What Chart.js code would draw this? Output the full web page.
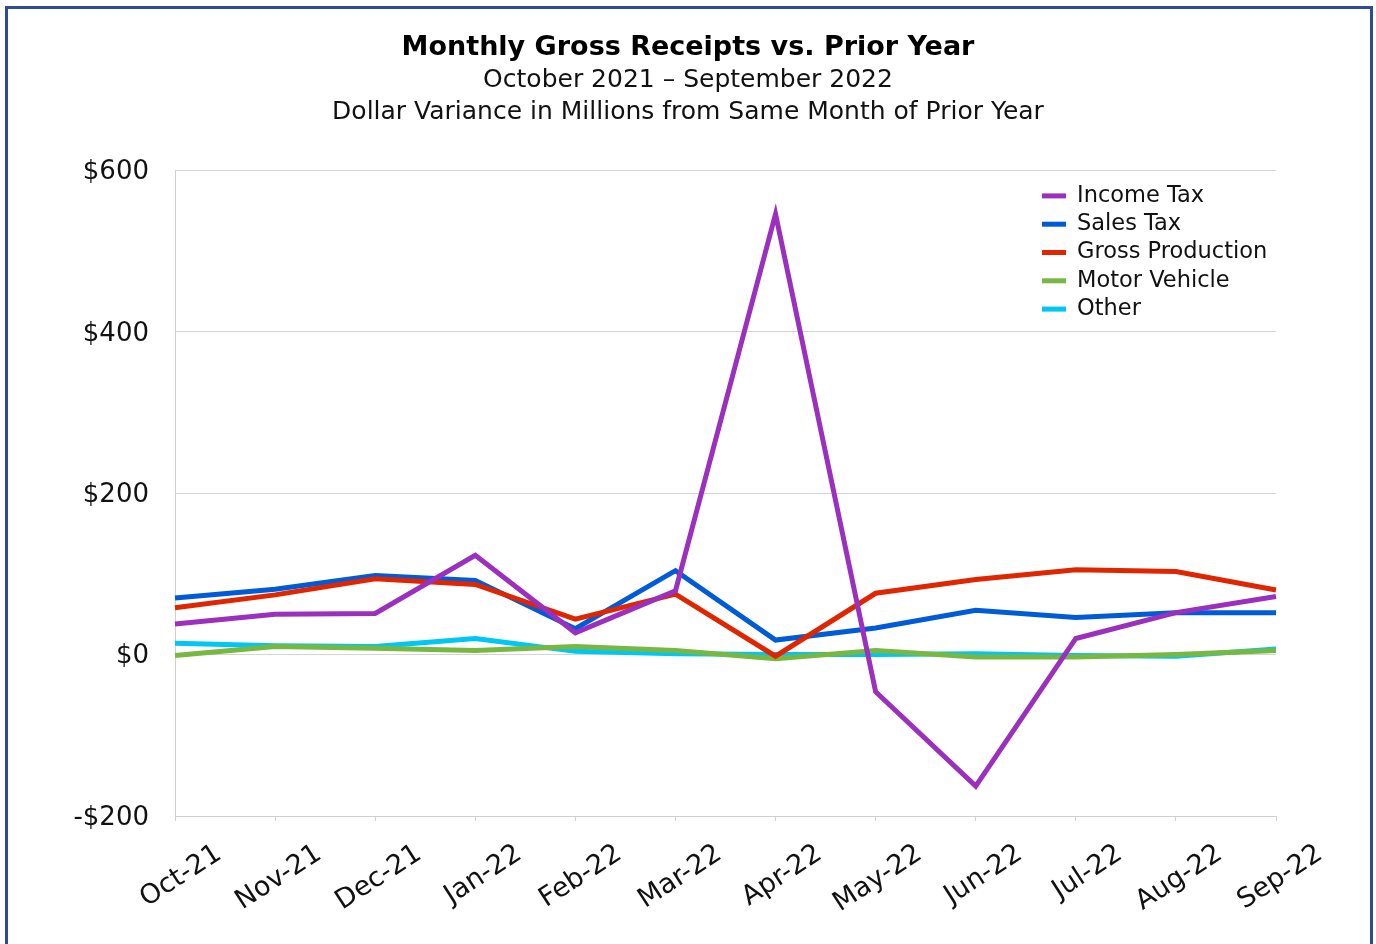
<!DOCTYPE html>
<html lang="en">
<head>
  <meta charset="UTF-8">
  <title>Monthly Gross Receipts vs. Prior Year</title>
  <script src="https://cdn.jsdelivr.net/npm/chart.js"></script>
  <style>
    body {
      margin: 0;
      background: white;
      overflow: hidden;
    }
    .frame {
      position: absolute;
      left: 5px;
      top: 6px;
      width: 1368px;
      height: 1000px;
      box-sizing: border-box;
      border: 3px solid #2e4b9b;
    }
    canvas {
      position: absolute;
      left: 0;
      top: 0;
    }
  </style>
</head>
<body>

<div class="frame"></div>
<canvas id="lineChart" width="1376" height="944"></canvas>

<script>
  const months = ["Oct-21", "Nov-21", "Dec-21", "Jan-22", "Feb-22", "Mar-22",
                  "Apr-22", "May-22", "Jun-22", "Jul-22", "Aug-22", "Sep-22"];

  // dollar variance in millions, same month of prior year
  const incomeTax       = [38, 50, 51, 123, 27, 79, 546, -46, -163, 20, 52, 72];
  const salesTax        = [70, 81, 98, 92, 32, 104, 18, 33, 55, 46, 52, 52];
  const grossProduction = [58, 74, 94, 87, 44, 75, -2, 76, 93, 105, 103, 80];
  const motorVehicle    = [-1, 10, 8, 5, 10, 5, -5, 5, -3, -3, 0, 5];
  const other           = [14, 11, 10, 20, 4, 1, 0, 0, 1, -1, -2, 7];

  const yTicks = [-200, 0, 200, 400, 600];

  const font = "DejaVu Sans";

  // legend drawn inside the plot, top right
  const insideLegend = {
    id: "insideLegend",
    afterDraw(chart) {
      const c = chart.ctx;
      const area = chart.chartArea;
      const x0 = area.right - 234;
      let y = area.top + 25.5;
      c.save();
      c.font = "22.5px " + font;
      c.textBaseline = "middle";
      c.textAlign = "left";
      chart.data.datasets.forEach(ds => {
        c.strokeStyle = ds.borderColor;
        c.lineWidth = 5;
        c.beginPath();
        c.moveTo(x0, y);
        c.lineTo(x0 + 24, y);
        c.stroke();
        c.fillStyle = "#111";
        c.fillText(ds.label, x0 + 35, y);
        y += 28.3;
      });
      c.restore();
    }
  };

  const ctx = document.getElementById("lineChart").getContext("2d");
  const chart = new Chart(ctx, {
    type: "line",
    data: {
      labels: months,
      datasets: [
        { label: "Income Tax", data: incomeTax, borderColor: "#9a30bd", order: 1 },
        { label: "Sales Tax", data: salesTax, borderColor: "#005bd8", order: 3 },
        { label: "Gross Production", data: grossProduction, borderColor: "#e02600", order: 2 },
        { label: "Motor Vehicle", data: motorVehicle, borderColor: "#77b843", order: 4 },
        { label: "Other", data: other, borderColor: "#00c6f4", order: 5 }
      ]
    },
    options: {
      responsive: false,
      animation: false,
      layout: {
        padding: 0
      },
      elements: {
        line: { borderWidth: 5, tension: 0, fill: false },
        point: { radius: 0 }
      },
      plugins: {
        legend: { display: false },
        tooltip: { enabled: false },
        title: {
          display: true,
          text: "Monthly Gross Receipts vs. Prior Year",
          color: "#000",
          font: { family: font, size: 27, weight: "bold" },
          padding: { top: 32, bottom: 0 }
        },
        subtitle: {
          display: true,
          text: ["October 2021 \u2013 September 2022",
                 "Dollar Variance in Millions from Same Month of Prior Year"],
          color: "#111",
          font: { family: font, size: 25, lineHeight: 1.28 },
          padding: { top: 0, bottom: 42 }
        }
      },
      scales: {
        x: {
          offset: false,
          grid: {
            drawOnChartArea: false,
            drawTicks: true,
            tickLength: 5,
            color: "#d0d0d0"
          },
          border: { display: true, color: "#d0d0d0" },
          ticks: {
            autoSkip: false,
            minRotation: 33,
            maxRotation: 33,
            labelOffset: 44,
            padding: 17,
            color: "#111",
            font: { family: font, size: 27 }
          },
          afterFit(scale) {
            scale.height = 128;
          }
        },
        y: {
          min: -200,
          max: 600,
          afterBuildTicks(scale) {
            scale.ticks = yTicks.map(v => ({ value: v }));
          },
          grid: {
            drawTicks: false,
            color: "#d4d4d4",
            lineWidth: 1
          },
          border: { display: true, color: "#d0d0d0" },
          ticks: {
            padding: 26,
            labelOffset: 2,
            color: "#111",
            font: { family: font, size: 26 },
            callback: v => (v < 0 ? "-$" + Math.abs(v) : "$" + v)
          },
          afterFit(scale) {
            scale.width = 175;
          }
        },
        // empty right axis, only keeps the plot off the right edge
        yRight: {
          position: "right",
          display: true,
          grid: { display: false },
          border: { display: false },
          ticks: { display: false },
          afterFit(scale) {
            scale.width = 100;
          }
        }
      }
    },
    plugins: [insideLegend]
  });
</script>

</body>
</html>
